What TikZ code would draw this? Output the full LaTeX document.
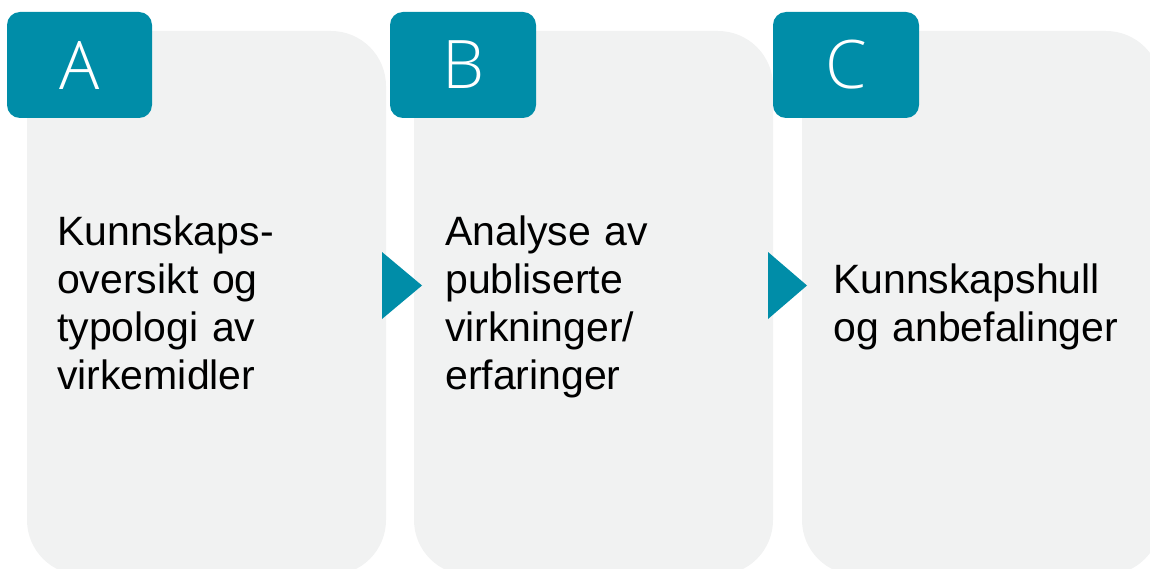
\documentclass[tikz,border=0pt]{standalone}
\usepackage{fontspec}
\setmainfont{Liberation Sans}
\newfontfamily\tabfont{Open Sans Light}
\definecolor{tealc}{HTML}{008DA8}
\definecolor{panelc}{HTML}{F1F2F2}
\tikzset{
  panelbox/.style={fill=panelc, draw=none, rounded corners=55pt},
  tabbox/.style={fill=tealc, draw=none, rounded corners=13pt},
  tabletter/.style={text=white, font=\tabfont\fontsize{67}{80}\selectfont, inner sep=0pt},
  bodytext/.style={anchor=base west, inner sep=0pt, text width=330pt, align=left,
    font=\fontsize{41}{48}\selectfont, text=black},
  chevron/.style={fill=tealc, draw=none}
}
\begin{document}
\begin{tikzpicture}[x=1pt, y=-1pt]
  \useasboundingbox (0,0) rectangle (1150,569);
  \clip (0,0) rectangle (1150,569);
  % panels
  \path[panelbox] (27,31) rectangle (386,575);
  \path[panelbox] (414,31) rectangle (773,575);
  \path[panelbox] (802,31) rectangle (1161,575);
  % tabs
  \path[tabbox] (7,12) rectangle (152,118);
  \path[tabbox] (390,12) rectangle (536,118);
  \path[tabbox] (773,12) rectangle (919,118);
  \node[tabletter] (la) at (79.5,65) {A};
  \node[tabletter] (lb) at (463,65) {B};
  \node[tabletter] (lc) at (846,65) {C};
  % arrows
  \path[chevron] (382,252) -- (422,285.5) -- (382,319) -- cycle;
  \path[chevron] (768,252) -- (807,285.5) -- (768,319) -- cycle;
  % texts
  \node[bodytext] (ta) at (57,245) {Kunnskaps-\\oversikt og\\typologi av\\virkemidler};
  \node[bodytext] (tb) at (445,245) {Analyse av\\publiserte\\virkninger/\\erfaringer};
  \node[bodytext] (tc) at (833,293) {Kunnskapshull\\og anbefalinger};
\end{tikzpicture}
\end{document}
